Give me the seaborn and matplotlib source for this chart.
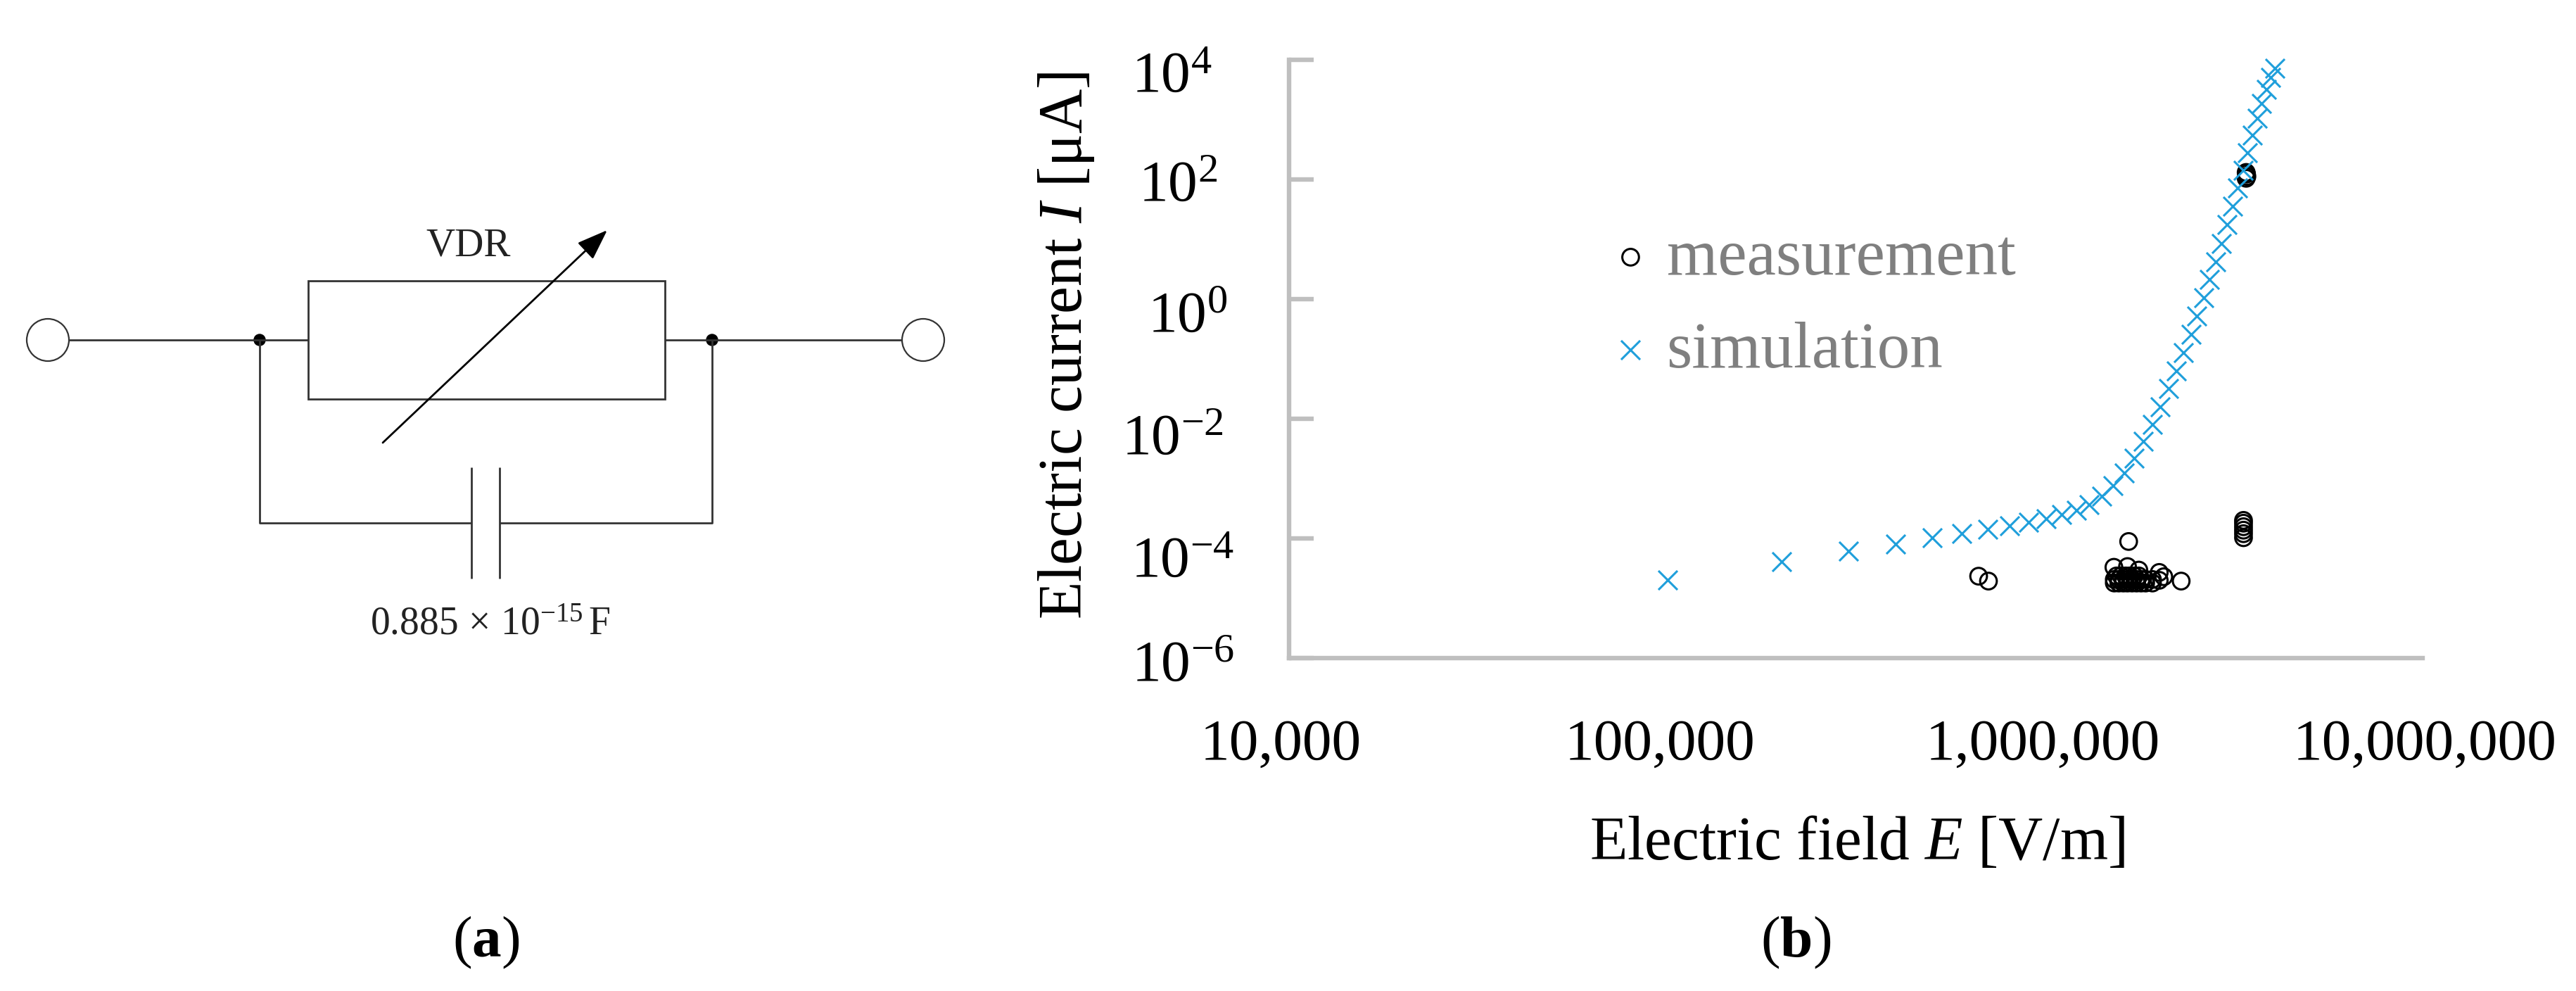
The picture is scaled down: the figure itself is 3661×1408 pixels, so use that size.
import matplotlib
matplotlib.use("Agg")
import matplotlib.pyplot as plt
from matplotlib.patches import Circle, Rectangle
from matplotlib.transforms import ScaledTranslation
import numpy as np
import pandas as pd
import seaborn as sns

# Values, stored as log10 of field and current #

sim_log_field = [5.001, 5.303, 5.480, 5.606, 5.702, 5.781, 5.849, 5.907, 5.958, 6.003,
                 6.045, 6.083, 6.118, 6.151, 6.181, 6.210, 6.236, 6.260, 6.284, 6.306,
                 6.328, 6.348, 6.367, 6.387, 6.403, 6.420, 6.436, 6.453, 6.467, 6.483,
                 6.497, 6.511, 6.525, 6.537, 6.549, 6.562, 6.574, 6.586, 6.598, 6.609]
sim_log_current = [-4.694, -4.392, -4.215, -4.090, -3.992, -3.913, -3.843, -3.784, -3.725, -3.666,
                   -3.600, -3.529, -3.431, -3.294, -3.117, -2.902, -2.655, -2.380, -2.090, -1.796,
                   -1.498, -1.196, -0.894, -0.588, -0.282, 0.020, 0.325, 0.627, 0.933, 1.243,
                   1.549, 1.855, 2.149, 2.451, 2.737, 3.019, 3.267, 3.502, 3.706, 3.855]

meas_log_field = [5.825, 5.851, 6.222, 6.361, 6.183, 6.219, 6.249, 6.303, 6.315,
                  6.184, 6.196, 6.208, 6.219, 6.231, 6.243, 6.255, 6.267, 6.285, 6.303,
                  6.184, 6.196, 6.208, 6.219, 6.231, 6.243, 6.255, 6.267, 6.285,
                  6.190, 6.202, 6.214, 6.225, 6.237, 6.249,
                  6.526, 6.526, 6.526, 6.526, 6.526, 6.526,
                  6.533, 6.534, 6.535, 6.533]
meas_log_current = [-4.631, -4.713, -4.051, -4.713, -4.482, -4.470, -4.529, -4.568, -4.640,
                    -4.745, -4.745, -4.745, -4.745, -4.745, -4.745, -4.745, -4.745, -4.745, -4.700,
                    -4.686, -4.686, -4.686, -4.686, -4.686, -4.686, -4.686, -4.686, -4.686,
                    -4.627, -4.627, -4.627, -4.627, -4.627, -4.627,
                    -3.698, -3.745, -3.804, -3.862, -3.921, -3.988,
                    2.118, 2.090, 2.050, 2.020]

x_ticks = [1e4, 1e5, 1e6, 1e7]
x_tick_labels = ["10,000", "100,000", "1,000,000", "10,000,000"]
y_ticks = [1e-6, 1e-4, 1e-2, 1e0, 1e2, 1e4]
y_tick_labels = ["$10^{-6}$", "$10^{-4}$", "$10^{-2}$", "$10^{0}$", "$10^{2}$", "$10^{4}$"]
# hand placed in the original, offsets in pixels
y_label_dx = [0, 0, -15, -10, -24, -32]
y_label_dy = [3, 26, 21, 17, 1, 17]

W, H = 3662, 1408
dpi = 100

sns.set_theme(style="white")
plt.rcParams["font.family"] = ["Liberation Serif", "DejaVu Serif"]
plt.rcParams["mathtext.fontset"] = "custom"
plt.rcParams["mathtext.rm"] = "Liberation Serif"
plt.rcParams["mathtext.it"] = "Liberation Serif:italic"
plt.rcParams["mathtext.bf"] = "Liberation Serif:bold"

sim_df = pd.DataFrame({"field": 10.0 ** np.array(sim_log_field), "current": 10.0 ** np.array(sim_log_current)})
meas_df = pd.DataFrame({"field": 10.0 ** np.array(meas_log_field), "current": 10.0 ** np.array(meas_log_current)})

fig = plt.figure(figsize=(W / dpi, H / dpi), dpi=dpi, facecolor="white")

# Panel b #

ax = fig.add_axes([1832 / W, (H - 935) / H, (3443 - 1832) / W, 850 / H])
ax.set_xscale("log")
ax.set_yscale("log")

sns.scatterplot(data=meas_df, x="field", y="current", ax=ax, marker="o", s=290, facecolor="none",
                edgecolor="black", linewidth=2.2, label="measurement", clip_on=False)
sns.scatterplot(data=sim_df, x="field", y="current", ax=ax, marker="x", s=380, color="#1F9FDB",
                linewidth=2.2, label="simulation", clip_on=False)

ax.set_xlim(1e4, 1e7)
ax.set_ylim(1e-6, 1e4)
ax.set_xticks(x_ticks)
ax.set_xticklabels(x_tick_labels, fontsize=60, color="black")
ax.set_yticks(y_ticks)
ax.set_yticklabels(y_tick_labels, fontsize=60, color="black")
ax.minorticks_off()
ax.tick_params(axis="x", length=0, pad=62)
ax.tick_params(axis="y", direction="in", length=25, width=4.6, color="#BFBFBF", pad=56, left=True)

for label, dx, dy in zip(ax.get_yticklabels(), y_label_dx, y_label_dy):
    label.set_transform(label.get_transform() + ScaledTranslation(dx / dpi, -dy / dpi, fig.dpi_scale_trans))
for label, dx in zip(ax.get_xticklabels(), [-12, -10, -3, 3]):
    label.set_transform(label.get_transform() + ScaledTranslation(dx / dpi, 0, fig.dpi_scale_trans))

sns.despine(ax=ax)
ax.spines["left"].set_color("#BFBFBF")
ax.spines["bottom"].set_color("#BFBFBF")
ax.spines["left"].set_linewidth(4.6)
ax.spines["bottom"].set_linewidth(4.6)

ax.set_xlabel("Electric field $\\mathit{E}$ [V/m]", fontsize=63, color="black")
ax.xaxis.set_label_coords((2639 - 1832) / (3443 - 1832), -0.263)
ax.set_ylabel("Electric current $\\mathit{I}$ [μA]", fontsize=63, color="black")
ax.yaxis.set_label_coords((1558 - 1832) / (3443 - 1832), (935 - 491) / 850)

ax.legend(loc="upper left", bbox_to_anchor=(0.284, 0.718), frameon=False, fontsize=67, labelcolor="#7F7F7F",
          handlelength=0.6, handletextpad=0.25, labelspacing=0.5, borderpad=0, borderaxespad=0)

# Panel a, schematic drawn in pixel coordinates #

sch = fig.add_axes([0, 0, 1, 1], zorder=-1)
sch.set_xlim(0, W)
sch.set_ylim(H, 0)
sch.axis("off")

wire_color = "#333333"
wire_paths = [
    ([98, 438], [483, 483]),
    ([945, 1282], [483, 483]),
    ([369, 369, 670], [483, 743, 743]),
    ([710, 1012, 1012], [743, 743, 483]),
    ([670, 670], [664, 822]),
    ([710, 710], [664, 822]),
]
for xs, ys in wire_paths:
    sch.plot(xs, ys, color=wire_color, lw=2.0, solid_capstyle="butt")

sch.add_patch(Rectangle((438, 399), 507, 168, fill=False, edgecolor=wire_color, lw=2.0))
for cx in [68, 1312]:
    sch.add_patch(Circle((cx, 483), 30, fill=False, edgecolor=wire_color, lw=1.6))
for cx in [369, 1012]:
    sch.add_patch(Circle((cx, 483), 8, color="black"))

sch.annotate("", xy=(863, 327), xytext=(544, 629),
             arrowprops=dict(arrowstyle="-|>,head_length=1.5,head_width=0.55", color="black", lw=2.0,
                             shrinkA=0, shrinkB=0, mutation_scale=18))

sch.text(666, 349, "VDR", fontsize=41, color="#222222", ha="center", va="center")
sch.text(697, 887, "0.885$\\,\\times\\,$10$^{-15}\\,$F", fontsize=40, color="#222222", ha="center", va="center")
sch.text(691, 1339, "($\\mathbf{a}$)", fontsize=60, color="black", ha="center", va="center")
sch.text(2552, 1339, "($\\mathbf{b}$)", fontsize=60, color="black", ha="center", va="center")

fig.savefig("out.png", dpi=dpi, facecolor="white")
